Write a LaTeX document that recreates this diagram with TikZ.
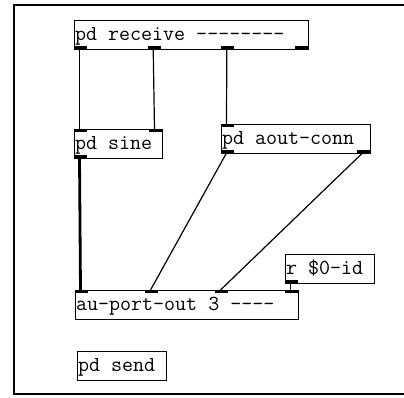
\documentclass[tikz,border=0pt]{standalone}
\usepackage{fontspec}
\setmonofont{Latin Modern Mono}
\usetikzlibrary{calc}
\newcommand\pdfont{\ttfamily\fontsize{21.4}{23}\selectfont}
\newcommand\spC{\char32\relax}
\tikzset{
  obj/.style={draw, line width=1pt, anchor=north west, outer sep=0pt,
    inner xsep=1pt, inner ysep=6pt, text height=14pt, text depth=3pt,
    font=\pdfont, align=left, text width=#1},
  ctl/.style={line width=1.2pt},
  sig/.style={line width=2.8pt},
  frame/.style={line width=2pt}
}
\newcommand\portbot[2]{\fill ($(#1.south west)+(#2,0)$) rectangle ++(13,-3);}
\newcommand\porttop[2]{\fill ($(#1.north west)+(#2,0)$) rectangle ++(13,3);}
\begin{document}
\begin{tikzpicture}[x=1pt,y=-1pt]
\useasboundingbox (0,0) rectangle (404,397);
\clip (0,0) rectangle (404,397);
\draw[frame] (14.3,5.3) rectangle (420,394.3);

\node[obj=232pt] (recv) at (74,20) {pd\spC receive\spC --------};
\node[obj=86pt] (sine) at (74,129) {pd\spC sine};
\node[obj=147pt] (aout) at (221,124) {pd\spC aout-conn};
\node[obj=221pt] (port) at (75,290) {au-port-out\spC 3\spC ----};
\node[obj=87pt] (rid) at (285,254) {r\spC\$0-id};
\node[obj=87pt] (send) at (77,351) {pd\spC send};

% ports
\portbot{recv}{0}\portbot{recv}{73.7}\portbot{recv}{147.3}\portbot{recv}{221}
\porttop{sine}{0}\porttop{sine}{75}\portbot{sine}{0}
\porttop{aout}{0}\portbot{aout}{0}\portbot{aout}{136}
\porttop{port}{0}\porttop{port}{70}\porttop{port}{140}\porttop{port}{210}
\portbot{rid}{0}

% port coordinates
\coordinate (recv-o0) at ($(recv.south west)+(5.5,0)$);
\coordinate (recv-o1) at ($(recv.south west)+(79.2,0)$);
\coordinate (recv-o2) at ($(recv.south west)+(152.8,0)$);
\coordinate (sine-i0) at ($(sine.north west)+(5.5,0)$);
\coordinate (sine-i1) at ($(sine.north west)+(80.5,0)$);
\coordinate (sine-o0) at ($(sine.south west)+(5.5,0)$);
\coordinate (aout-i0) at ($(aout.north west)+(5.5,0)$);
\coordinate (aout-o0) at ($(aout.south west)+(5.5,0)$);
\coordinate (aout-o1) at ($(aout.south west)+(141.5,0)$);
\coordinate (port-i0) at ($(port.north west)+(5.5,0)$);
\coordinate (port-i1) at ($(port.north west)+(75.5,0)$);
\coordinate (port-i2) at ($(port.north west)+(145.5,0)$);
\coordinate (port-i3) at ($(port.north west)+(215.5,0)$);
\coordinate (rid-o0) at ($(rid.south west)+(5.5,0)$);

\draw[ctl] (recv-o0) -- (sine-i0);
\draw[ctl] (recv-o1) -- (sine-i1);
\draw[ctl] (recv-o2) -- (aout-i0);
\draw[ctl] (aout-o0) -- (port-i1);
\draw[ctl] (aout-o1) -- (port-i2);
\draw[ctl] (rid-o0) -- (port-i3);
\draw[sig] (sine-o0) -- (port-i0);
\end{tikzpicture}
\end{document}
